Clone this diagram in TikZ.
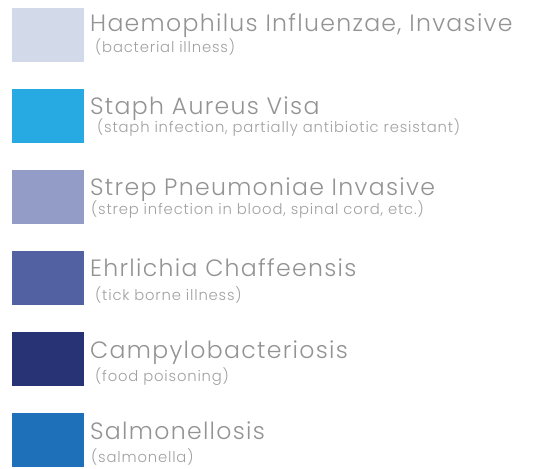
\documentclass[tikz,border=0pt]{standalone}
\usepackage{fontspec}
\setmainfont{Poppins}[UprightFont=* Light]
\newfontfamily\legendfont{Poppins}[UprightFont=* Light, LetterSpace=5.5]
\definecolor{cA}{HTML}{D2D9E8}
\definecolor{cB}{HTML}{27A9E1}
\definecolor{cC}{HTML}{939CC6}
\definecolor{cD}{HTML}{5161A1}
\definecolor{cE}{HTML}{283375}
\definecolor{cF}{HTML}{1E71B8}
\definecolor{titlegray}{HTML}{939393}
\definecolor{subgray}{HTML}{A0A0A0}
\tikzset{
  swatch/.style={inner sep=0pt, minimum width=72pt, minimum height=54pt, anchor=north west, draw=none},
  titletext/.style={anchor=base west, inner sep=0pt, text=titlegray, font=\legendfont\fontsize{23.6}{23.6}\selectfont},
  subtext/.style={anchor=base west, inner sep=0pt, text=subgray, font=\legendfont\fontsize{14.8}{14.8}\selectfont},
}
\begin{document}
\begin{tikzpicture}[x=1pt,y=-1pt]
\useasboundingbox (0,0) rectangle (537,468);
\node[swatch, fill=cA] (s1) at (12,8) {};
\node[swatch, fill=cB] (s2) at (12,89) {};
\node[swatch, fill=cC] (s3) at (12,170) {};
\node[swatch, fill=cD] (s4) at (12,251) {};
\node[swatch, fill=cE] (s5) at (12,332) {};
\node[swatch, fill=cF] (s6) at (12,413) {};
\node[titletext] (t1) at (90,31.5) {Haemophilus Influenzae, Invasive};
\node[subtext] (u1) at (95,53) {(bacterial illness)};
\node[titletext] (t2) at (90,114.5) {Staph Aureus Visa};
\node[subtext] (u2) at (97,132.5) {(staph infection, partially antibiotic resistant)};
\node[titletext] (t3) at (90,195.5) {Strep Pneumoniae Invasive};
\node[subtext] (u3) at (91,214) {(strep infection in blood, spinal cord, etc.)};
\node[titletext] (t4) at (90,276.5) {Ehrlichia Chaffeensis};
\node[subtext] (u4) at (95,300) {(tick borne illness)};
\node[titletext] (t5) at (90,358) {Campylobacteriosis};
\node[subtext] (u5) at (95,381) {(food poisoning)};
\node[titletext] (t6) at (90,439) {Salmonellosis};
\node[subtext] (u6) at (91,462) {(salmonella)};
\end{tikzpicture}
\end{document}
